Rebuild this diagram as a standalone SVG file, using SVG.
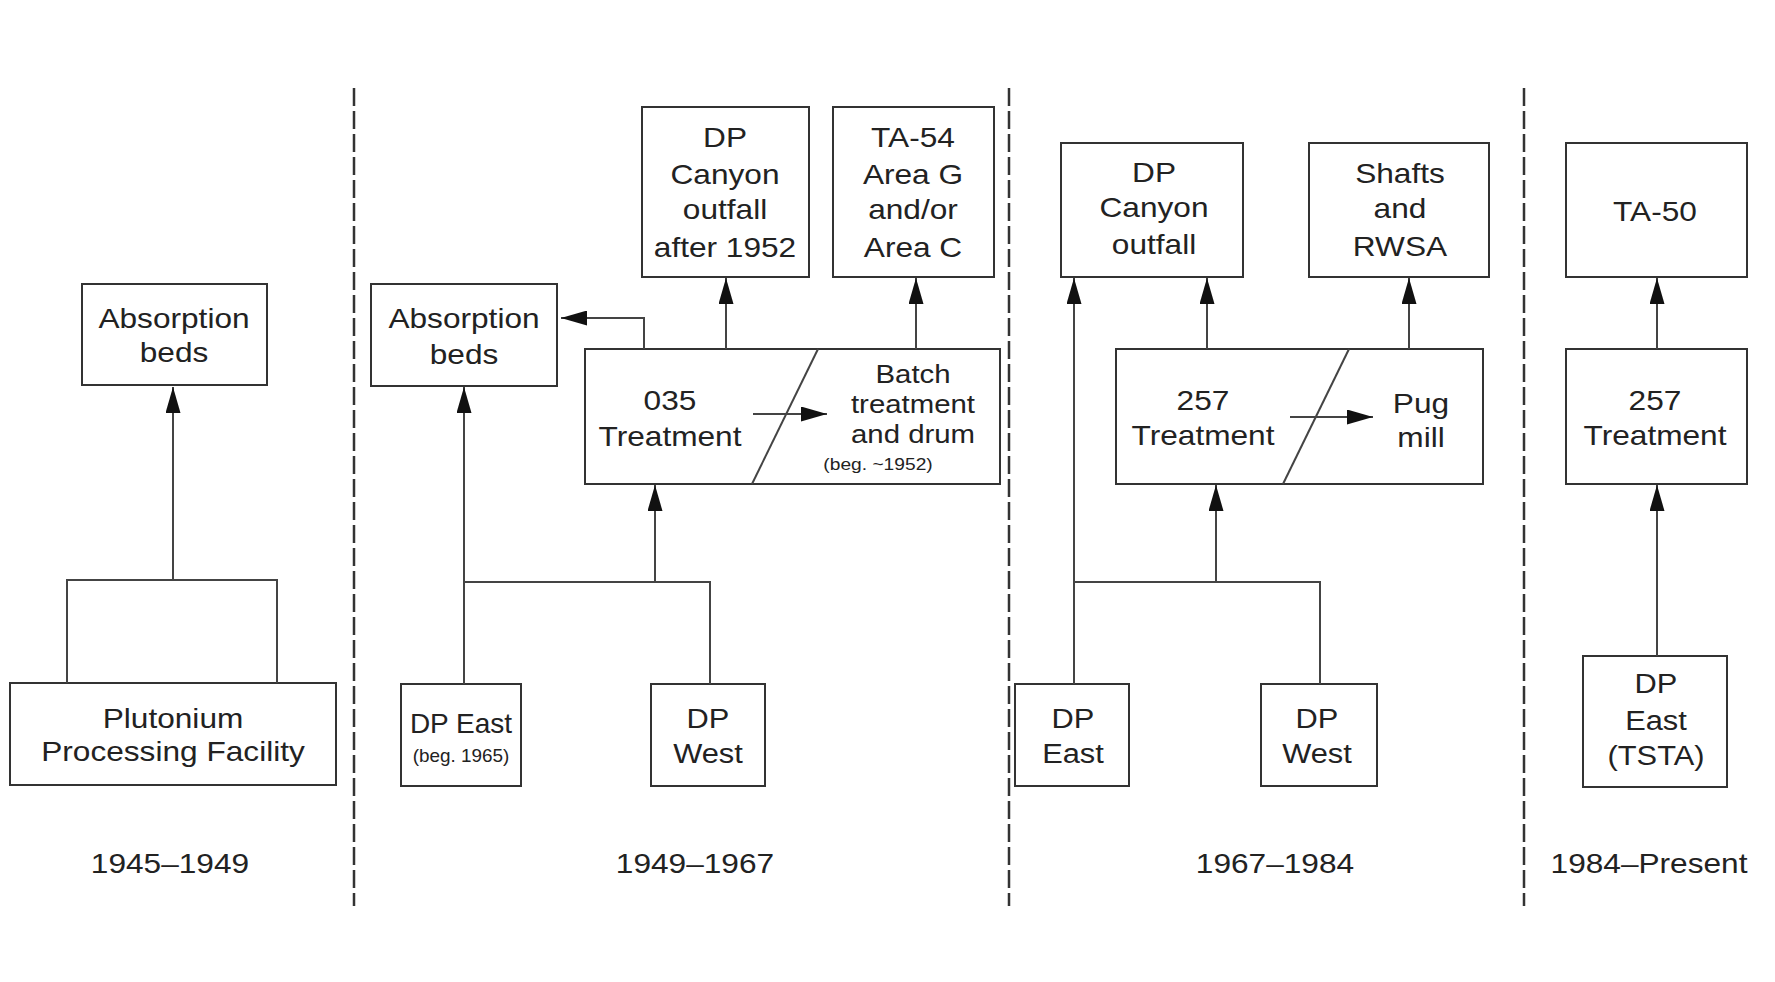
<svg xmlns="http://www.w3.org/2000/svg" width="1775" height="982" viewBox="0 0 1775 982">
<style>
.box{fill:#fff;stroke:#333;stroke-width:2}
.ln{fill:none;stroke:#444;stroke-width:2}
.arr{fill:none;stroke:#444;stroke-width:2;marker-end:url(#ah)}
.dash{fill:none;stroke:#333;stroke-width:2.5;stroke-dasharray:18 5}
text{font-family:"Liberation Sans",Arial,Helvetica,sans-serif;font-size:28px;fill:#222;text-anchor:middle}
.sm{font-size:26px}
.xs{font-size:17px}
</style>
<defs>
<marker id="ah" markerUnits="userSpaceOnUse" markerWidth="26" markerHeight="15" refX="26" refY="7.5" orient="auto">
<path d="M0,0 L26,7.5 L0,15 Z" fill="#111"/>
</marker>
</defs>
<rect width="1775" height="982" fill="#fff"/>

<g id="dividers">
<line class="dash" x1="354" y1="88" x2="354" y2="906"/>
<line class="dash" x1="1009" y1="88" x2="1009" y2="906"/>
<line class="dash" x1="1524" y1="88" x2="1524" y2="906"/>
</g>

<!-- Period 1 -->
<g id="absorption-beds-1">
<rect class="box" x="82" y="284" width="185" height="101"/>
<text transform="matrix(1.13 0 0 1 174 0)"><tspan x="0" y="328">Absorption</tspan><tspan x="0" y="362">beds</tspan></text>
</g>
<g id="plutonium-facility">
<rect class="box" x="10" y="683" width="326" height="102"/>
<text transform="matrix(1.13 0 0 1 173 0)"><tspan x="0" y="728">Plutonium</tspan><tspan x="0" y="761">Processing Facility</tspan></text>
</g>
<g id="label-1945">
<text transform="matrix(1.13 0 0 1 170 0)" y="873">1945–1949</text>
</g>

<!-- Period 2 -->
<g id="absorption-beds-2">
<rect class="box" x="371" y="284" width="186" height="102"/>
<text transform="matrix(1.13 0 0 1 464 0)"><tspan x="0" y="328">Absorption</tspan><tspan x="0" y="364">beds</tspan></text>
</g>
<g id="dp-canyon-1952">
<rect class="box" x="642" y="107" width="167" height="170"/>
<text transform="matrix(1.13 0 0 1 725 0)"><tspan x="0" y="147">DP</tspan><tspan x="0" y="184">Canyon</tspan><tspan x="0" y="219">outfall</tspan><tspan x="0" y="257">after 1952</tspan></text>
</g>
<g id="ta54">
<rect class="box" x="833" y="107" width="161" height="170"/>
<text transform="matrix(1.13 0 0 1 913 0)"><tspan x="0" y="147">TA-54</tspan><tspan x="0" y="184">Area G</tspan><tspan x="0" y="219">and/or</tspan><tspan x="0" y="257">Area C</tspan></text>
</g>
<g id="treatment-035">
<rect class="box" x="585" y="349" width="415" height="135"/>
<line class="ln" x1="818" y1="349" x2="752" y2="484" stroke="#333"/>
<text transform="matrix(1.13 0 0 1 670 0)"><tspan x="0" y="410">035</tspan><tspan x="0" y="446">Treatment</tspan></text>
<text class="sm" transform="matrix(1.13 0 0 1 913 0)"><tspan x="0" y="383">Batch</tspan><tspan x="0" y="413">treatment</tspan><tspan x="0" y="443">and drum</tspan></text>
<text class="xs" transform="matrix(1.13 0 0 1 878 0)" y="470">(beg. ~1952)</text>
</g>
<g id="dp-east-1">
<rect class="box" x="401" y="684" width="120" height="102"/>
<text x="461" y="733">DP East</text>
<text x="461" y="762" style="font-size:18px" transform="matrix(1.05 0 0 1 -23 0)">(beg. 1965)</text>
</g>
<g id="dp-west-1">
<rect class="box" x="651" y="684" width="114" height="102"/>
<text transform="matrix(1.1 0 0 1 708 0)"><tspan x="0" y="728">DP</tspan><tspan x="0" y="763">West</tspan></text>
</g>
<g id="label-1949">
<text transform="matrix(1.13 0 0 1 695 0)" y="873">1949–1967</text>
</g>

<!-- Period 3 -->
<g id="dp-canyon-2">
<rect class="box" x="1061" y="143" width="182" height="134"/>
<text transform="matrix(1.13 0 0 1 1154 0)"><tspan x="0" y="182">DP</tspan><tspan x="0" y="217">Canyon</tspan><tspan x="0" y="254">outfall</tspan></text>
</g>
<g id="shafts-rwsa">
<rect class="box" x="1309" y="143" width="180" height="134"/>
<text transform="matrix(1.13 0 0 1 1400 0)"><tspan x="0" y="183">Shafts</tspan><tspan x="0" y="218">and</tspan><tspan x="0" y="256">RWSA</tspan></text>
</g>
<g id="treatment-257-a">
<rect class="box" x="1116" y="349" width="367" height="135"/>
<line class="ln" x1="1349" y1="349" x2="1283" y2="484" stroke="#333"/>
<text transform="matrix(1.13 0 0 1 1203 0)"><tspan x="0" y="410">257</tspan><tspan x="0" y="445">Treatment</tspan></text>
<text transform="matrix(1.13 0 0 1 1421 0)"><tspan x="0" y="413">Pug</tspan><tspan x="0" y="447">mill</tspan></text>
</g>
<g id="dp-east-2">
<rect class="box" x="1015" y="684" width="114" height="102"/>
<text transform="matrix(1.1 0 0 1 1073 0)"><tspan x="0" y="728">DP</tspan><tspan x="0" y="763">East</tspan></text>
</g>
<g id="dp-west-2">
<rect class="box" x="1261" y="684" width="116" height="102"/>
<text transform="matrix(1.1 0 0 1 1317 0)"><tspan x="0" y="728">DP</tspan><tspan x="0" y="763">West</tspan></text>
</g>
<g id="label-1967">
<text transform="matrix(1.13 0 0 1 1275 0)" y="873">1967–1984</text>
</g>

<!-- Period 4 -->
<g id="ta50">
<rect class="box" x="1566" y="143" width="181" height="134"/>
<text transform="matrix(1.13 0 0 1 1655 0)" y="221">TA-50</text>
</g>
<g id="treatment-257-b">
<rect class="box" x="1566" y="349" width="181" height="135"/>
<text transform="matrix(1.13 0 0 1 1655 0)"><tspan x="0" y="410">257</tspan><tspan x="0" y="445">Treatment</tspan></text>
</g>
<g id="dp-east-tsta">
<rect class="box" x="1583" y="656" width="144" height="131"/>
<text transform="matrix(1.1 0 0 1 1656 0)"><tspan x="0" y="693">DP</tspan><tspan x="0" y="730">East</tspan><tspan x="0" y="765">(TSTA)</tspan></text>
</g>
<g id="label-1984">
<text transform="matrix(1.13 0 0 1 1649 0)" y="873">1984–Present</text>
</g>

<g id="connectors">
<!-- period 1 -->
<polyline class="ln" points="67,683 67,580 277,580 277,683"/>
<line class="arr" x1="173" y1="580" x2="173" y2="387"/>
<!-- period 2 -->
<polyline class="arr" points="644,349 644,318 561,318"/>
<line class="arr" x1="726" y1="349" x2="726" y2="278"/>
<line class="arr" x1="916" y1="349" x2="916" y2="278"/>
<line class="arr" x1="464" y1="684" x2="464" y2="387"/>
<polyline class="ln" points="464,582 710,582 710,684"/>
<line class="arr" x1="655" y1="582" x2="655" y2="485"/>
<line class="arr" x1="753" y1="414" x2="827" y2="414"/>
<!-- period 3 -->
<line class="arr" x1="1074" y1="684" x2="1074" y2="278"/>
<line class="arr" x1="1207" y1="349" x2="1207" y2="278"/>
<line class="arr" x1="1409" y1="349" x2="1409" y2="278"/>
<polyline class="ln" points="1074,582 1320,582 1320,684"/>
<line class="arr" x1="1216" y1="582" x2="1216" y2="485"/>
<line class="arr" x1="1290" y1="417" x2="1373" y2="417"/>
<!-- period 4 -->
<line class="arr" x1="1657" y1="349" x2="1657" y2="278"/>
<line class="arr" x1="1657" y1="656" x2="1657" y2="485"/>
</g>
</svg>
